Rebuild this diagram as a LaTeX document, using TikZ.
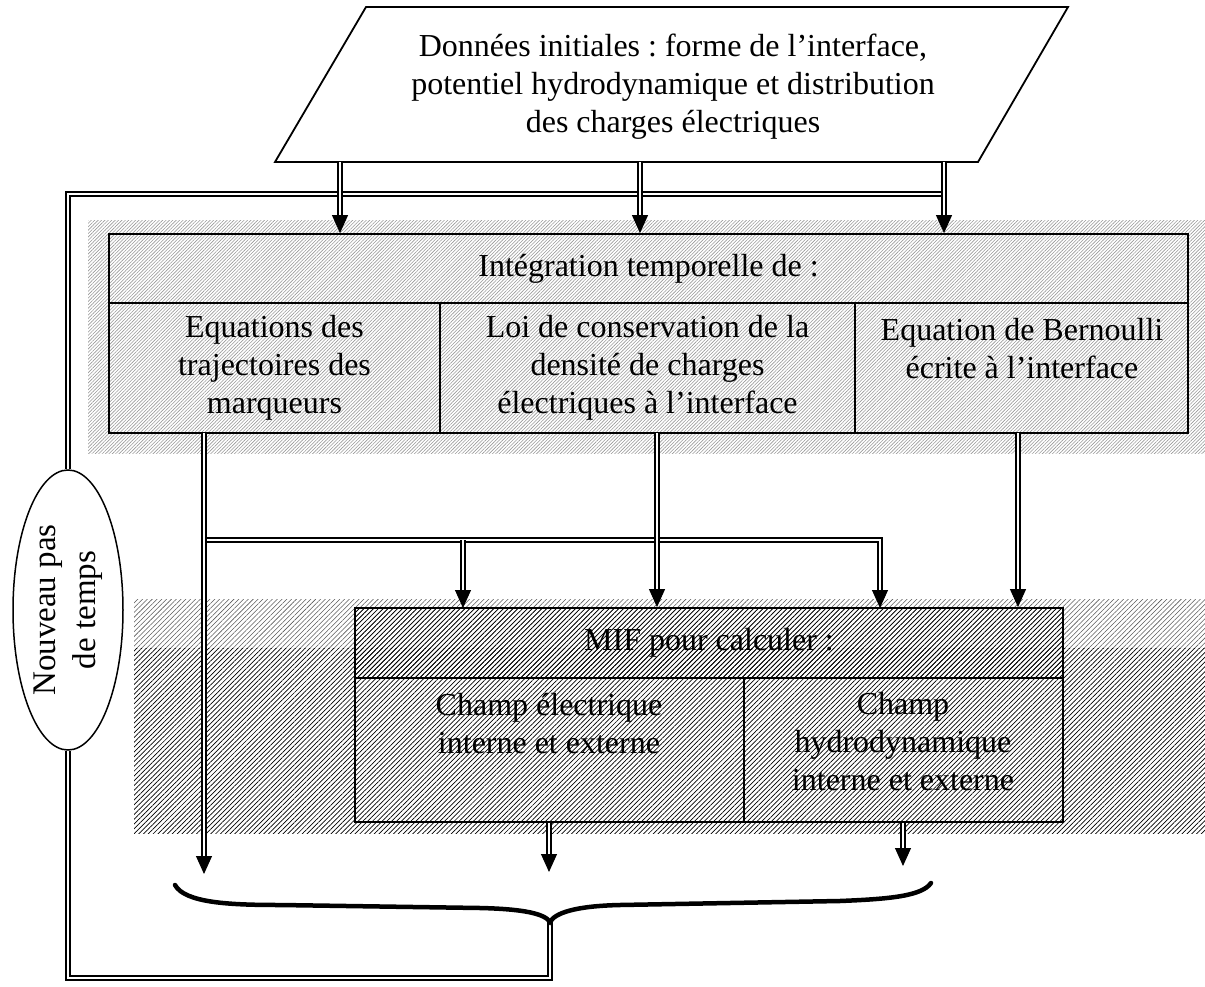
\documentclass[tikz,border=0pt]{standalone}
\usepackage{fontspec}
\setmainfont{Liberation Serif}
\frenchspacing
\usetikzlibrary{arrows.meta,patterns.meta,shapes.geometric,calc}

\tikzset{
  lbl/.style={font=\fontsize{32}{38}\selectfont, align=center, inner sep=0pt},
  cell/.style={draw, line width=1.8pt, inner sep=0pt, lbl},
  dbl/.style={draw, double, line width=2pt, double distance=1.9pt},
  tiphead/.style={-{Triangle[width=16pt,length=18pt]}, line width=1pt},
  dots/.style={pattern={Lines[angle=45,distance=2.4pt,line width=0.6pt]}, pattern color=black!40},
  hatchlight/.style={pattern={Lines[angle=45,distance=3.4pt,line width=0.55pt]}, pattern color=black!65},
  hatchdark/.style={pattern={Lines[angle=45,distance=3.4pt,line width=0.7pt]}, pattern color=black},
}
% double shaft ending just above the target, then a solid triangular head
\newcommand\dblarrow[2]{%
  \draw[dbl] (#1) -- ($(#2)+(0,-17)$);
  \draw[tiphead] ($(#2)+(0,-18)$) -- (#2);}

\begin{document}
\begin{tikzpicture}[x=1pt,y=-1pt]
\useasboundingbox (0,0) rectangle (1205,987);

% textured bands
\fill[dots] (88,221) rectangle (1205,453);
\fill[hatchlight] (134,599) rectangle (1205,648);
\fill[hatchdark] (134,648) rectangle (1205,833);

% initial data (parallelogram)
\coordinate (p1) at (366,7);
\coordinate (p2) at (1068,7);
\coordinate (p3) at (978,162);
\coordinate (p4) at (275,162);
\draw[line width=1.8pt, fill=white] (p1) -- (p2) -- (p3) -- (p4) -- cycle;
\node[lbl] (data) at (673,87) {Données initiales : forme de l’interface,\\potentiel hydrodynamique et distribution\\des charges électriques};

% time integration block
\node[cell, minimum width=1079pt, minimum height=69pt] (integ) at (648.5,268.5) {Intégration temporelle de :};
\node[cell, minimum width=331pt, minimum height=130pt] (c1) at (274.5,368) {Equations des\\trajectoires des\\marqueurs};
\node[cell, minimum width=415pt, minimum height=130pt] (c2) at (647.5,368) {Loi de conservation de la\\densité de charges\\électriques à l’interface};
\node[cell, minimum width=333pt, minimum height=130pt] (c3) at (1021.5,368) {};
\node[lbl] (c3t) at (1022,349) {Equation de Bernoulli\\écrite à l’interface};

% MIF block
\fill[hatchdark] (355,608) rectangle (1063,678);
\node[cell, minimum width=708pt, minimum height=70pt] (mif) at (709,643) {MIF pour calculer :};
\node[cell, minimum width=389pt, minimum height=144pt] (m1) at (549.5,750) {};
\node[lbl] (m1t) at (549,724) {Champ électrique\\interne et externe};
\node[cell, minimum width=319pt, minimum height=144pt] (m2) at (903.5,750) {};
\node[lbl] (m2t) at (903,742) {Champ\\hydrodynamique\\interne et externe};

% time step loop
\node[draw, ellipse, line width=1.5pt, fill=white, rotate=90, minimum width=280pt, minimum height=110pt, lbl, font=\fontsize{33}{40}\selectfont] (ell) at (68,610) {Nouveau pas\\de temps};
\coordinate (bt) at (550,922);
\coordinate (lb) at (550,978);
\coordinate (ll) at (68,978);
\coordinate (lt) at (68,194);
\coordinate (lr) at (944,194);
\draw[dbl] (bt) -- (lb) -- (ll) -- (ell.west);
\draw[dbl] (ell.east) -- (lt) -- (lr);

% inputs to the integration block
\coordinate (s1) at (340,162);
\coordinate (s2) at (640,162);
\coordinate (s3) at (944,162);
\dblarrow{s1}{integ.north -| s1}
\dblarrow{s2}{integ.north -| s2}
\dblarrow{s3}{integ.north -| s3}

% distribution towards the MIF block
\coordinate (o1) at (204,433);
\coordinate (j1) at (204,540);
\coordinate (d1) at (463,608);
\coordinate (d3) at (880,608);
\coordinate (o2) at (657,433);
\coordinate (o3) at (1018,433);
\draw[dbl] (j1) -- (j1 -| d3) -- ($(d3)+(0,-17)$);
\draw[tiphead] ($(d3)+(0,-18)$) -- (d3);
\dblarrow{j1 -| d1}{d1}
\dblarrow{o2}{mif.north -| o2}
\dblarrow{o3}{mif.north -| o3}

% results gathered by the brace
\coordinate (e1) at (204,874);
\coordinate (e2) at (549,872);
\coordinate (e3) at (903,866);
\dblarrow{o1}{e1}
\dblarrow{m1.south -| e2}{e2}
\dblarrow{m2.south -| e3}{e3}

\draw[line width=4.5pt, line cap=round] (175,885) .. controls (185,903) and (230,905) .. (280,905) -- (480,908) .. controls (525,909) and (545,914) .. (bt) .. controls (555,913) and (575,906) .. (620,905) -- (840,901) .. controls (890,899) and (922,896) .. (931,883);
\end{tikzpicture}
\end{document}
